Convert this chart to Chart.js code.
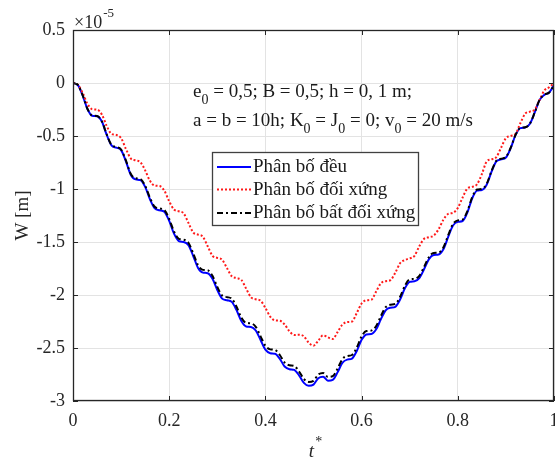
<!DOCTYPE html>
<html><head><meta charset="utf-8">
<script src="https://cdn.jsdelivr.net/npm/chart.js@4.4.1/dist/chart.umd.min.js"></script>
<style>html,body{margin:0;padding:0;background:#fff}#wrap{width:555px;height:460px}</style>
</head><body><div id="wrap"><canvas id="c" width="555" height="460"></canvas></div>
<script>
const tValues = [
 0,0.01,0.02,0.03,0.04,0.05,0.06,0.07,0.08,0.09,
 0.10,0.11,0.12,0.13,0.14,0.15,0.16,0.17,0.18,0.19,
 0.20,0.21,0.22,0.23,0.24,0.25,0.26,0.27,0.28,0.29,
 0.30,0.31,0.32,0.33,0.34,0.35,0.36,0.37,0.38,0.39,
 0.40,0.41,0.42,0.43,0.44,0.45,0.46,0.47,0.48,0.49,
 0.50,0.51,0.52,0.53,0.54,0.55,0.56,0.57,0.58,0.59,
 0.60,0.61,0.62,0.63,0.64,0.65,0.66,0.67,0.68,0.69,
 0.70,0.71,0.72,0.73,0.74,0.75,0.76,0.77,0.78,0.79,
 0.80,0.81,0.82,0.83,0.84,0.85,0.86,0.87,0.88,0.89,
 0.90,0.91,0.92,0.93,0.94,0.95,0.96,0.97,0.98,0.99,
 1.00];
// Phân bố đều
const uniformW = [
 0,-0.019,-0.116,-0.245,-0.309,-0.314,-0.364,-0.488,-0.589,-0.61,
 -0.633,-0.739,-0.865,-0.909,-0.916,-0.98,-1.097,-1.183,-1.2,-1.216,
 -1.301,-1.421,-1.491,-1.5,-1.53,-1.632,-1.745,-1.789,-1.794,-1.847,
 -1.953,-2.034,-2.05,-2.065,-2.143,-2.246,-2.297,-2.301,-2.335,-2.425,
 -2.516,-2.549,-2.554,-2.602,-2.675,-2.7,-2.707,-2.759,-2.829,-2.856,
 -2.845,-2.785,-2.771,-2.809,-2.8,-2.73,-2.64,-2.61,-2.6,-2.528,
 -2.423,-2.372,-2.368,-2.326,-2.23,-2.144,-2.12,-2.111,-2.043,-1.937,
 -1.876,-1.87,-1.841,-1.755,-1.661,-1.622,-1.618,-1.569,-1.452,-1.345,
 -1.31,-1.302,-1.22,-1.087,-1.015,-1.009,-0.96,-0.839,-0.74,-0.72,
 -0.703,-0.614,-0.492,-0.426,-0.42,-0.384,-0.278,-0.161,-0.112,-0.09,
 -0.02];
// Phân bố đối xứng
const symmetricW = [
 0,-0.015,-0.093,-0.196,-0.247,-0.251,-0.297,-0.404,-0.48,-0.49,
 -0.521,-0.622,-0.711,-0.73,-0.746,-0.824,-0.923,-0.968,-0.972,-1.017,
 -1.116,-1.194,-1.21,-1.23,-1.32,-1.41,-1.43,-1.45,-1.54,-1.63,
 -1.65,-1.667,-1.745,-1.823,-1.84,-1.858,-1.94,-2.022,-2.04,-2.054,
 -2.122,-2.205,-2.239,-2.243,-2.278,-2.342,-2.377,-2.375,-2.39,-2.45,
 -2.478,-2.43,-2.38,-2.40,-2.415,-2.35,-2.28,-2.255,-2.25,-2.17,
 -2.08,-2.05,-2.045,-1.97,-1.89,-1.87,-1.86,-1.79,-1.70,-1.67,
 -1.655,-1.63,-1.54,-1.47,-1.455,-1.44,-1.38,-1.29,-1.235,-1.225,
 -1.18,-1.08,-0.995,-0.98,-0.955,-0.86,-0.74,-0.72,-0.70,-0.61,
 -0.52,-0.50,-0.48,-0.38,-0.29,-0.27,-0.25,-0.16,-0.07,-0.04,
 0];
// Phân bố bất đối xứng
const asymmetricW = [
 0,-0.019,-0.115,-0.243,-0.307,-0.312,-0.361,-0.484,-0.584,-0.604,
 -0.627,-0.731,-0.856,-0.899,-0.905,-0.968,-1.083,-1.168,-1.184,-1.199,
 -1.283,-1.401,-1.47,-1.478,-1.507,-1.608,-1.72,-1.763,-1.767,-1.819,
 -1.924,-2.004,-2.02,-2.034,-2.111,-2.213,-2.263,-2.267,-2.3,-2.39,
 -2.48,-2.513,-2.518,-2.566,-2.638,-2.663,-2.67,-2.722,-2.792,-2.82,
 -2.81,-2.75,-2.735,-2.773,-2.765,-2.695,-2.605,-2.576,-2.566,-2.495,
 -2.39,-2.34,-2.336,-2.295,-2.2,-2.115,-2.092,-2.084,-2.017,-1.912,
 -1.852,-1.847,-1.819,-1.734,-1.641,-1.603,-1.6,-1.552,-1.436,-1.33,
 -1.296,-1.289,-1.208,-1.076,-1.005,-1.0,-0.952,-0.832,-0.734,-0.714,
 -0.698,-0.61,-0.489,-0.424,-0.418,-0.382,-0.277,-0.16,-0.111,-0.09,
 -0.02];
const seriesNames = ['Phân bố đều','Phân bố đối xứng','Phân bố bất đối xứng'];
const xTickValues = [0,0.2,0.4,0.6,0.8,1];
const xTickLabels = ['0','0.2','0.4','0.6','0.8','1'];
const yTickValues = [0.5,0,-0.5,-1,-1.5,-2,-2.5,-3];
const yTickLabels = ['0.5','0','-0.5','-1','-1.5','-2','-2.5','-3'];
const yTitle = 'W [m]';
const xTitleMain = 't', xTitleSup = '*';
const expBase = '×10', expPow = '-5';
const noteLine1 = [['e',0],['0',1],[' = 0,5; B = 0,5; h = 0, 1 m;',0]];
const noteLine2 = [['a = b = 10h; K',0],['0',1],[' = J',0],['0',1],[' = 0; v',0],['0',1],[' = 20 m/s',0]];

const FF = "'Liberation Serif','Times New Roman',serif";
const TXT = '#262626';

function pts(arr){ return tValues.map((t,i)=>({x:t,y:arr[i]})); }

const styles = [
  {color:'#0000ff', dash:[], width:2},
  {color:'#ff1a1a', dash:[2,2], width:2},
  {color:'#000000', dash:[6,3,2,3], width:2}
];

function drawRich(ctx, parts, x, y, size){
  let cx = x;
  parts.forEach(([s,sub])=>{
    const fs = sub ? Math.round(size*0.72) : size;
    ctx.font = fs+'px '+FF;
    ctx.fillText(s, cx, sub ? y+7 : y);
    cx += ctx.measureText(s).width;
  });
}

const decor = {
  id:'decor',
  afterDatasetsDraw(chart){
    const {ctx, chartArea:a, scales:{x,y}} = chart;
    ctx.save();
    ctx.strokeStyle = TXT; ctx.lineWidth = 1;
    ctx.beginPath();
    xTickValues.forEach(v=>{const px=Math.round(x.getPixelForValue(v))+0.5;
      ctx.moveTo(px,a.bottom); ctx.lineTo(px,a.bottom-5);
      ctx.moveTo(px,a.top); ctx.lineTo(px,a.top+5);});
    yTickValues.forEach(v=>{const py=Math.round(y.getPixelForValue(v))+0.5;
      ctx.moveTo(a.left,py); ctx.lineTo(a.left+5,py);
      ctx.moveTo(a.right,py); ctx.lineTo(a.right-5,py);});
    ctx.stroke();
    ctx.lineWidth = 1.3;
    ctx.strokeRect(Math.round(a.left)+0.5, Math.round(a.top)+0.5, Math.round(a.right-a.left)-1, Math.round(a.bottom-a.top)-1);
    ctx.restore();
  },
  afterDraw(chart){
    const {ctx, chartArea:a} = chart;
    ctx.save();
    ctx.fillStyle = TXT; ctx.textBaseline='alphabetic'; ctx.textAlign='left';
    ctx.font = '18px '+FF;
    ctx.fillText(expBase, 74, 28);
    const w = ctx.measureText(expBase).width;
    ctx.font = '13px '+FF;
    ctx.fillText(expPow, 74+w+1, 17);
    ctx.font = 'italic 19px '+FF;
    const tw = ctx.measureText(xTitleMain).width;
    const xc = (a.left+a.right)/2;
    ctx.fillText(xTitleMain, xc - tw/2 - 2, 457);
    ctx.font = '14px '+FF;
    ctx.fillText(xTitleSup, xc + tw/2 - 1, 446);
    ctx.fillStyle = '#1a1a1a';
    drawRich(ctx, noteLine1, 193, 97, 19);
    drawRich(ctx, noteLine2, 193, 126, 19);
    const L = 212.5, T = 152.5, W = 206, H = 73;
    ctx.fillStyle = '#fff'; ctx.fillRect(L,T,W,H);
    ctx.strokeStyle = '#404040'; ctx.lineWidth = 1.3; ctx.strokeRect(L,T,W,H);
    const rows = [167, 189.5, 213];
    seriesNames.forEach((n,i)=>{
      const st = styles[i];
      ctx.save();
      ctx.strokeStyle = st.color; ctx.lineWidth = st.width; ctx.setLineDash(st.dash);
      ctx.beginPath(); ctx.moveTo(217, rows[i]); ctx.lineTo(251, rows[i]); ctx.stroke();
      ctx.restore();
      ctx.fillStyle = '#1a1a1a'; ctx.font = '19px '+FF; ctx.textBaseline='alphabetic';
      ctx.fillText(n, 253, rows[i]+5);
    });
    ctx.restore();
  }
};

new Chart(document.getElementById('c'), {
  type:'line',
  data:{ datasets:[
    {label:seriesNames[0], data:pts(uniformW), borderColor:styles[0].color, borderWidth:styles[0].width, borderDash:styles[0].dash, pointRadius:0, cubicInterpolationMode:'monotone', order:2},
    {label:seriesNames[1], data:pts(symmetricW), borderColor:styles[1].color, borderWidth:styles[1].width, borderDash:styles[1].dash, pointRadius:0, cubicInterpolationMode:'monotone', order:1},
    {label:seriesNames[2], data:pts(asymmetricW), borderColor:styles[2].color, borderWidth:styles[2].width, borderDash:styles[2].dash, pointRadius:0, cubicInterpolationMode:'monotone', order:0}
  ]},
  options:{
    responsive:false, animation:false, devicePixelRatio:1,
    layout:{padding:{top:30,left:0,right:1,bottom:0}},
    plugins:{legend:{display:false}, tooltip:{enabled:false}},
    scales:{
      x:{type:'linear', min:0, max:1,
        afterBuildTicks:s=>{s.ticks = xTickValues.map(v=>({value:v}));},
        afterFit:s=>{s.height=59; s.paddingLeft=0; s.paddingRight=0;},
        ticks:{callback:(v,i)=>xTickLabels[i], font:{family:FF,size:18}, color:TXT, padding:9, maxRotation:0, autoSkip:false},
        grid:{color:'#e3e3e3', lineWidth:1, drawTicks:false},
        border:{display:false}
      },
      y:{type:'linear', min:-3, max:0.5,
        afterBuildTicks:s=>{s.ticks = yTickValues.map(v=>({value:v}));},
        afterFit:s=>{s.width=73; s.paddingTop=0; s.paddingBottom=0;},
        ticks:{callback:(v,i)=>yTickLabels[i], font:{family:FF,size:18}, color:TXT, padding:8, autoSkip:false},
        grid:{color:'#e3e3e3', lineWidth:1, drawTicks:false},
        border:{display:false},
        title:{display:true, text:yTitle, font:{family:FF,size:19}, color:TXT, padding:{top:12,bottom:0}}
      }
    }
  },
  plugins:[decor]
});
</script></body></html>
